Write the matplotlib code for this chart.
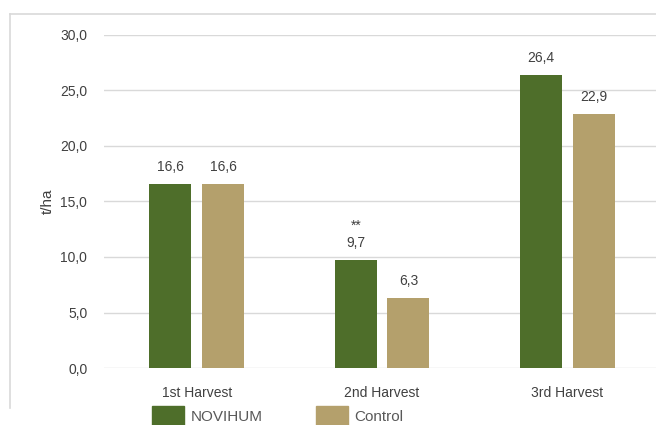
import matplotlib.pyplot as plt
import numpy as np
from matplotlib.lines import Line2D
from matplotlib.patches import Patch

plt.rcParams['font.family'] = ['Liberation Sans', 'DejaVu Sans']

harvests = ['1st Harvest', '2nd Harvest', '3rd Harvest']
novihum = [16.6, 9.7, 26.4]
control = [16.6, 6.3, 22.9]
marks = ['', '**', '']  # significance markers over NOVIHUM
yticks = [0, 5, 10, 15, 20, 25, 30]

green = '#4e6e2a'
tan = '#b4a06c'
txt = '#404040'

fig = plt.figure(figsize=(6.56, 4.25), dpi=100)
ax = fig.add_axes([0.1585, 0.134, 0.845, 0.784])

x = np.arange(len(harvests))
w = 0.227
b1 = ax.bar(x - 0.142, novihum, w, color=green, zorder=3)
b2 = ax.bar(x + 0.142, control, w, color=tan, zorder=3)

for rect, v, m in zip(b1, novihum, marks):
    ax.text(rect.get_x() + rect.get_width() / 2, v + 0.9, ('%.1f' % v).replace('.', ','),
            ha='center', va='bottom', fontsize=10, color=txt)
    if m:
        ax.text(rect.get_x() + rect.get_width() / 2, v + 2.5, m,
                ha='center', va='bottom', fontsize=10, color=txt)
for rect, v in zip(b2, control):
    ax.text(rect.get_x() + rect.get_width() / 2, v + 0.9, ('%.1f' % v).replace('.', ','),
            ha='center', va='bottom', fontsize=10, color=txt)

ax.set_ylim(0, 30)
ax.set_xlim(-0.5, 2.49)
ax.set_yticks(yticks)
ax.set_yticklabels([('%.1f' % t).replace('.', ',') for t in yticks], fontsize=10, color=txt)
ax.set_xticks(x)
ax.set_xticklabels(harvests, fontsize=10, color=txt)
ax.tick_params(length=0, pad=12, axis='y')
ax.tick_params(length=0, pad=13, axis='x')
ax.grid(axis='y', color='#d9d9d9', linewidth=1, zorder=0)
for s in ax.spines.values():
    s.set_visible(False)
ax.set_ylabel('t/ha', fontsize=11, color=txt, labelpad=4)

# chart frame (left and top edges only visible)
fig.add_artist(Line2D([10 / 656, 10 / 656], [17 / 425, 411 / 425], transform=fig.transFigure,
                      color='#d9d9d9', linewidth=1.2))
fig.add_artist(Line2D([10 / 656, 1.0], [411 / 425, 411 / 425], transform=fig.transFigure,
                      color='#d9d9d9', linewidth=1.2))

handles = [Patch(color=green, label='NOVIHUM'), Patch(color=tan, label='Control')]
fig.legend(handles=handles, loc='center', bbox_to_anchor=(0.423, 0.022), ncol=2, frameon=False,
           fontsize=11, labelcolor='#595959', handlelength=2.1, handleheight=1.6,
           columnspacing=3.5, handletextpad=0.4)

fig.savefig('out.png', dpi=100)
